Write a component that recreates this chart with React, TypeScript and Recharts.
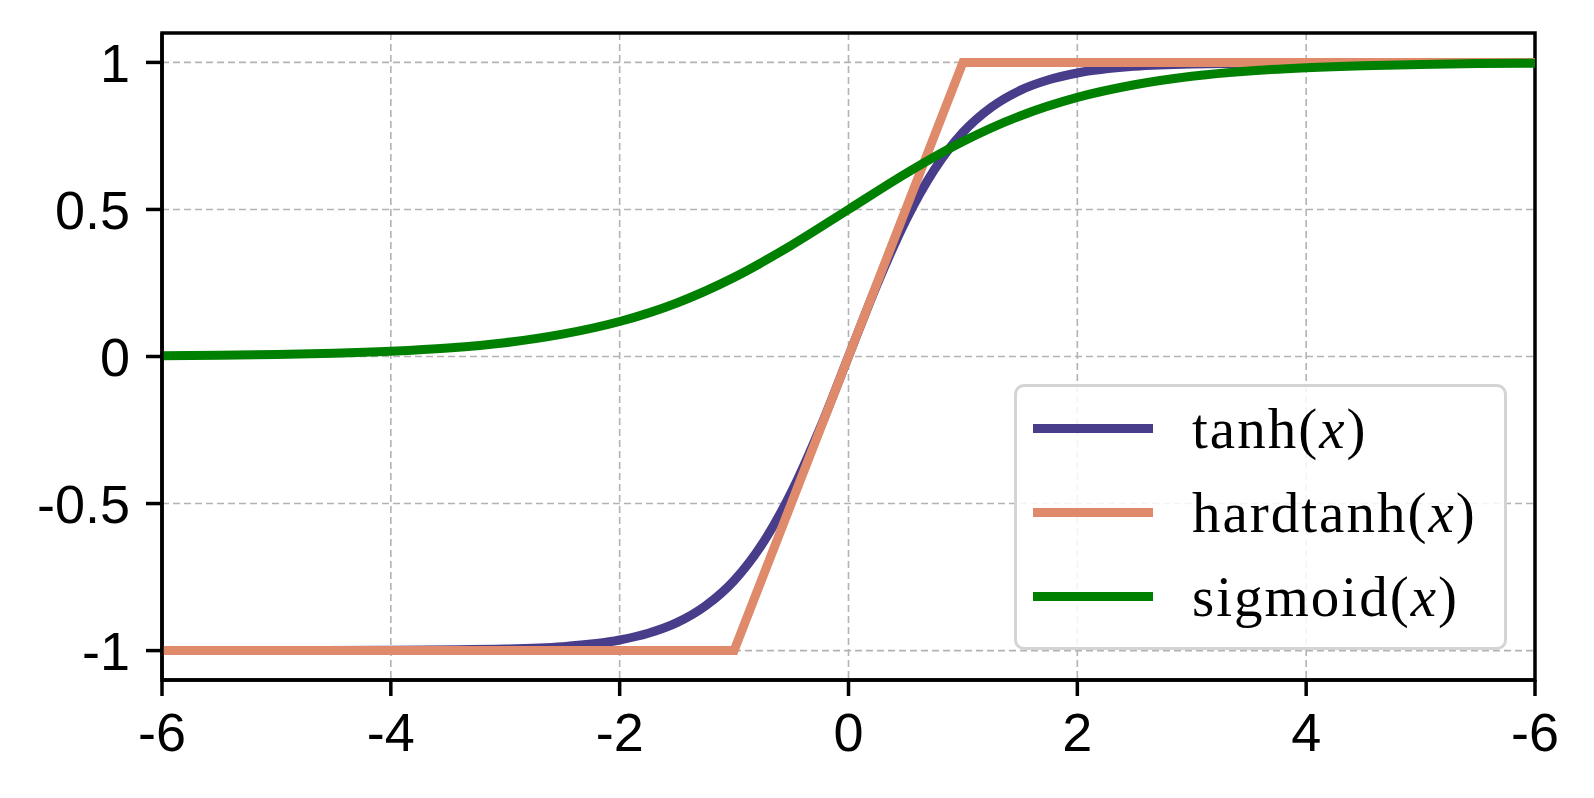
import React from 'react';
import { LineChart, Line, XAxis, YAxis, CartesianGrid, ReferenceArea } from 'recharts';

if (typeof document !== 'undefined') {
  document.body.style.margin = '0';
}

const xTicks = [-6, -4, -2, 0, 2, 4, 6];
const xTickLabels = ['-6', '-4', '-2', '0', '2', '4', '-6'];
const yTicks = [-1, -0.5, 0, 0.5, 1];
const yTickLabels = ['-1', '-0.5', '0', '0.5', '1'];

const tanhX = [-6, -5, -4, -3, -2.5, -2, -1.75, -1.5, -1.25, -1, -0.75, -0.5, -0.25, 0, 0.25, 0.5, 0.75, 1, 1.25, 1.5, 1.75, 2, 2.5, 3, 4, 5, 6];
const tanhY = [-1, -1, -0.999, -0.995, -0.987, -0.964, -0.941, -0.905, -0.848, -0.762, -0.635, -0.462, -0.245, 0, 0.245, 0.462, 0.635, 0.762, 0.848, 0.905, 0.941, 0.964, 0.987, 0.995, 0.999, 1, 1];

const hardX = [-6, -1, 1, 6];
const hardY = [-1, -1, 1, 1];

const sigX = [-6, -5.5, -5, -4.5, -4, -3.5, -3, -2.5, -2, -1.5, -1, -0.5, 0, 0.5, 1, 1.5, 2, 2.5, 3, 3.5, 4, 4.5, 5, 5.5, 6];
const sigY = [0.0025, 0.004, 0.007, 0.011, 0.018, 0.029, 0.047, 0.076, 0.119, 0.182, 0.269, 0.378, 0.5, 0.622, 0.731, 0.818, 0.881, 0.924, 0.953, 0.971, 0.982, 0.989, 0.993, 0.996, 0.9975];

const seriesNames = ['tanh(x)', 'hardtanh(x)', 'sigmoid(x)'];
const colors = ['#483D8B', '#DE8A6B', '#008000'];

const tanhData = tanhX.map((x, i) => ({ x, y: tanhY[i] }));
const hardData = hardX.map((x, i) => ({ x, y: hardY[i] }));
const sigData = sigX.map((x, i) => ({ x, y: sigY[i] }));

const W = 1594;
const H = 798;

const LegendBox = () => (
  <div
    style={{
      position: 'absolute',
      left: 1014,
      top: 384,
      width: 487,
      height: 260,
      border: '3px solid #d4d4d4',
      borderRadius: 10,
      background: 'rgba(255,255,255,0.85)',
      boxSizing: 'content-box',
    }}
  >
    {seriesNames.map((name, i) => {
      const m = name.match(/^(.*)\((x)\)$/);
      return (
        <div key={name} style={{ position: 'absolute', left: 0, top: 41 + i * 84, height: 0 }}>
          <div
            style={{
              position: 'absolute',
              left: 16,
              top: -4.5,
              width: 120,
              height: 9,
              background: colors[i],
            }}
          />
          <div
            style={{
              position: 'absolute',
              left: 175,
              top: -29,
              whiteSpace: 'nowrap',
              fontFamily: '"Liberation Serif", "DejaVu Serif", serif',
              fontSize: 57,
              lineHeight: '60px',
              color: '#000',
              letterSpacing: 2,
            }}
          >
            {m ? (
              <>
                {m[1]}(<i>{m[2]}</i>)
              </>
            ) : (
              name
            )}
          </div>
        </div>
      );
    })}
  </div>
);

export default function App() {
  return (
    <div style={{ width: W, height: H, background: '#fff', position: 'relative' }}>
      <LineChart width={W} height={H} margin={{ top: 33, right: 59, left: 62, bottom: 38 }}>
        <CartesianGrid stroke="#b3b3b3" strokeDasharray="7 4" strokeWidth={1.6} vertical horizontal />
        <XAxis
          type="number"
          dataKey="x"
          domain={[-6, 6]}
          ticks={xTicks}
          tickFormatter={(v: number) => xTickLabels[xTicks.indexOf(v)]}
          allowDataOverflow
          height={80}
          axisLine={{ stroke: '#000', strokeWidth: 3.5 }}
          tickLine={{ stroke: '#000', strokeWidth: 3.5 }}
          tickSize={16}
          tickMargin={17}
          tick={{ fill: '#000', fontSize: 54, fontFamily: '"Liberation Sans", Arial, sans-serif' }}
          interval={0}
        />
        <YAxis
          type="number"
          dataKey="y"
          domain={[-1.1, 1.1]}
          ticks={yTicks}
          tickFormatter={(v: number) => yTickLabels[yTicks.indexOf(v)]}
          allowDataOverflow
          width={100}
          axisLine={{ stroke: '#000', strokeWidth: 3.5 }}
          tickLine={{ stroke: '#000', strokeWidth: 3.5 }}
          tickSize={16}
          tickMargin={16}
          tick={{ fill: '#000', fontSize: 54, fontFamily: '"Liberation Sans", Arial, sans-serif' }}
          interval={0}
        />
        <Line data={tanhData} dataKey="y" type="monotone" stroke={colors[0]} strokeWidth={9} dot={false} isAnimationActive={false} />
        <Line data={hardData} dataKey="y" type="linear" stroke={colors[1]} strokeWidth={9} dot={false} isAnimationActive={false} />
        <Line data={sigData} dataKey="y" type="monotone" stroke={colors[2]} strokeWidth={9} dot={false} isAnimationActive={false} />
        <ReferenceArea x1={-6} x2={6} y1={-1.1} y2={1.1} fill="none" stroke="#000" strokeWidth={3.5} ifOverflow="visible" />
      </LineChart>
      <LegendBox />
    </div>
  );
}
